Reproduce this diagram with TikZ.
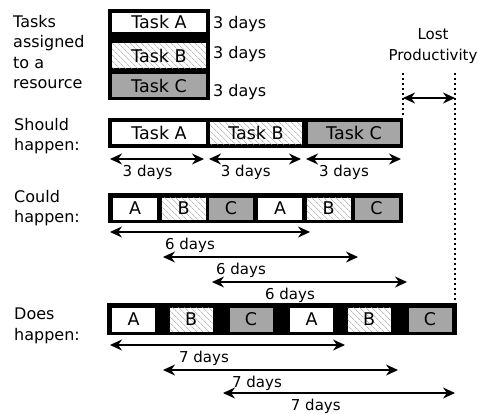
\documentclass[tikz,border=0pt]{standalone}
\usepackage{fontspec}
\setmainfont{DejaVu Sans}
\usetikzlibrary{arrows.meta,patterns.meta}

\tikzset{
  lbl/.style={inner sep=0pt, font=\fontsize{16}{20.5}\selectfont},
  bar/.style={fill=black, inner sep=0pt},
  cell/.style={inner sep=0pt, font=\fontsize{17.5}{20}\selectfont},
  cellA/.style={cell, fill=white},
  cellB/.style={cell, fill=white,
    postaction={pattern={Lines[angle=-45,distance=4pt,line width=0.5pt]}, pattern color=gray!80}},
  cellC/.style={cell, fill=gray!70},
  span/.style={line width=1.2pt, {Stealth[length=12pt,width=11pt]}-{Stealth[length=12pt,width=11pt]}},
  daylbl/.style={below=5pt, pos=0.4, inner sep=0pt, font=\fontsize{15}{18}\selectfont},
  lostline/.style={line width=2pt, dash pattern=on 2pt off 3pt}
}

\begin{document}
\begin{tikzpicture}[x=1pt,y=-1pt]
  \useasboundingbox (0,0) rectangle (478,413);

  % Nodes
  \node[lbl, anchor=north west, align=left] (tasklbl) at (13,15) {Tasks\\assigned\\to a\\resource};
  \node[bar, minimum width=102pt, minimum height=91pt] (tasks) at (159,54.5) {};
  \node[cellA, minimum width=94pt, minimum height=19pt] (ta) at (159,22) {Task A};
  \node[cellB, minimum width=94pt, minimum height=25pt] (tb) at (159,55.5) {Task B};
  \node[cellC, minimum width=94pt, minimum height=23pt] (tc) at (159,85.5) {Task C};
  \node[lbl, anchor=base west] (da) at (213,28) {3 days};
  \node[lbl, anchor=base west] (db) at (213,58) {3 days};
  \node[lbl, anchor=base west] (dc) at (213,96) {3 days};

  \node[lbl, anchor=north, align=center, font=\fontsize{15}{21}\selectfont] (lost) at (433,28) {Lost\\Productivity};

  \node[lbl, anchor=north west, align=left] (shouldlbl) at (14,118) {Should\\happen:};
  \node[bar, minimum width=295pt, minimum height=30pt] (should) at (255.5,133) {};
  \node[cellA, minimum width=94pt, minimum height=22pt] (sa) at (159,133) {Task A};
  \node[cellB, minimum width=92pt, minimum height=22pt] (sb) at (256,133) {Task B};
  \node[cellC, minimum width=92pt, minimum height=22pt] (sc) at (354,133) {Task C};

  \node[lbl, anchor=north west, align=left] (couldlbl) at (14,190) {Could\\happen:};
  \node[bar, minimum width=295pt, minimum height=30pt] (could) at (255.5,208) {};
  \node[cellA, minimum width=44pt, minimum height=22pt] (ca1) at (135,208.5) {A};
  \node[cellB, minimum width=44pt, minimum height=22pt] (cb1) at (183.5,208.5) {B};
  \node[cellC, minimum width=44pt, minimum height=22pt] (cc1) at (231,208.5) {C};
  \node[cellA, minimum width=44pt, minimum height=22pt] (ca2) at (280,208.5) {A};
  \node[cellB, minimum width=44pt, minimum height=22pt] (cb2) at (328.5,208.5) {B};
  \node[cellC, minimum width=44pt, minimum height=22pt] (cc2) at (376.5,208.5) {C};

  \node[lbl, anchor=north west, align=left] (doeslbl) at (14,308) {Does\\happen:};
  \node[bar, minimum width=350pt, minimum height=32pt] (does) at (282,319) {};
  \node[cellA, minimum width=43pt, minimum height=24pt] (da1) at (133.5,319.5) {A};
  \node[cellB, minimum width=43pt, minimum height=24pt] (db1) at (191,319.5) {B};
  \node[cellC, minimum width=43pt, minimum height=24pt] (dc1) at (251,319.5) {C};
  \node[cellA, minimum width=43pt, minimum height=24pt] (da2) at (311.5,319.5) {A};
  \node[cellB, minimum width=43pt, minimum height=24pt] (db2) at (369,319.5) {B};
  \node[cellC, minimum width=43pt, minimum height=24pt] (dc2) at (430,319.5) {C};

  % Arrow ends
  \coordinate (lostL) at (403,73);
  \coordinate (lostR) at (455,73);
  \coordinate (lostA) at (403,98);
  \coordinate (lostB) at (455,98);
  \coordinate (s1a) at (110,159);  \coordinate (s1b) at (204,159);
  \coordinate (s2a) at (209,159);  \coordinate (s2b) at (301,159);
  \coordinate (s3a) at (306,159);  \coordinate (s3b) at (401,159);
  \coordinate (c1a) at (110,232);  \coordinate (c1b) at (310,232);
  \coordinate (c2a) at (163,257);  \coordinate (c2b) at (358,257);
  \coordinate (c3a) at (212,282);  \coordinate (c3b) at (407,282);
  \coordinate (d1a) at (110,345);  \coordinate (d1b) at (345,345);
  \coordinate (d2a) at (163,370);  \coordinate (d2b) at (398,370);
  \coordinate (d3a) at (223,393);  \coordinate (d3b) at (455,393);

  % Arrows
  \draw[lostline] (lostL) -- (lostL |- should.north);
  \draw[lostline] (lostR) -- (lostR |- does.north);
  \draw[span] (lostA) -- (lostB);

  \draw[span] (s1a) -- node[daylbl] {3 days} (s1b);
  \draw[span] (s2a) -- node[daylbl] {3 days} (s2b);
  \draw[span] (s3a) -- node[daylbl] {3 days} (s3b);

  \draw[span] (c1a) -- node[daylbl] {6 days} (c1b);
  \draw[span] (c2a) -- node[daylbl] {6 days} (c2b);
  \draw[span] (c3a) -- node[daylbl] {6 days} (c3b);

  \draw[span] (d1a) -- node[daylbl] {7 days} (d1b);
  \draw[span] (d2a) -- node[daylbl] {7 days} (d2b);
  \draw[span] (d3a) -- node[daylbl] {7 days} (d3b);
\end{tikzpicture}
\end{document}
